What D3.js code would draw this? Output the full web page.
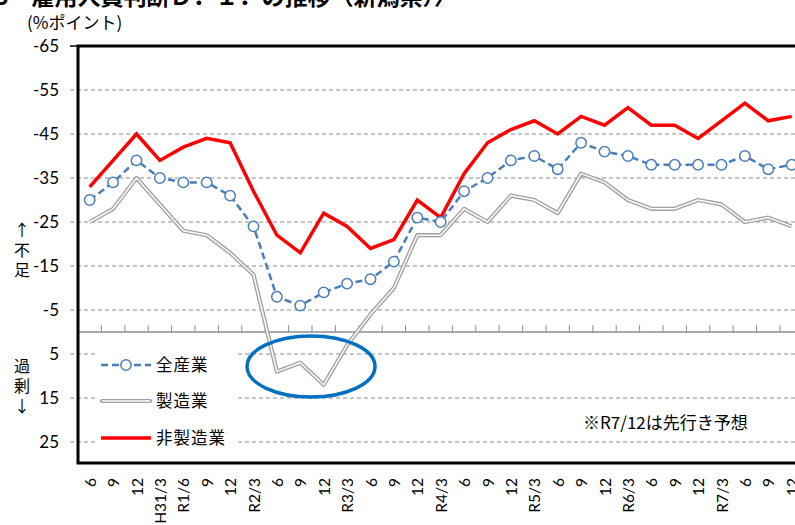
<!DOCTYPE html>
<html>
<head>
<meta charset="utf-8">
<script src="https://cdn.jsdelivr.net/npm/d3@7"></script>
<style>
  body { margin: 0; background: #fff; }
  text { font-family: "Noto Sans CJK JP", sans-serif; }
  .num { font-family: Lato, "Liberation Sans", sans-serif; }
</style>
</head>
<body>
<div id="vis"></div>
<script>
// ---------- data ----------
const categories = ["6", "9", "12", "H31/3", "R1/6", "9", "12", "R2/3", "6", "9", "12", "R3/3",
  "6", "9", "12", "R4/3", "6", "9", "12", "R5/3", "6", "9", "12", "R6/3", "6", "9", "12",
  "R7/3", "6", "9", "12"];
const allIndustry = [-30, -34, -39, -35, -34, -34, -31, -24, -8, -6, -9, -11, -12, -16, -26, -25,
  -32, -35, -39, -40, -37, -43, -41, -40, -38, -38, -38, -38, -40, -37, -38];
const manufacturing = [-25, -28, -35, -29, -23, -22, -18, -13, 9, 7, 12, 3, -4, -10, -22, -22,
  -28, -25, -31, -30, -27, -36, -34, -30, -28, -28, -30, -29, -25, -26, -24];
const nonManufacturing = [-33, -39, -45, -39, -42, -44, -43, -32, -22, -18, -27, -24, -19, -21, -30, -26,
  -36, -43, -46, -48, -45, -49, -47, -51, -47, -47, -44, -48, -52, -48, -49];
const yTicks = [-65, -55, -45, -35, -25, -15, -5, 5, 15, 25];

// ---------- frame ----------
const WIDTH = 795, HEIGHT = 525;
const PLOT = { left: 78, top: 46, bottom: 464 };
const STEP = 23.4;

const svg = d3.select("#vis").append("svg")
  .attr("width", WIDTH).attr("height", HEIGHT);

const x = d3.scaleBand()
  .domain(d3.range(categories.length))
  .range([PLOT.left, PLOT.left + STEP * categories.length]);
const y = d3.scaleLinear().domain([-65, 30]).range([PLOT.top, PLOT.bottom]);
const cx = i => x(i) + x.bandwidth() / 2;

// title (top cut off like in the source)
svg.append("text")
  .attr("x", -5).attr("y", 5)
  .attr("font-size", 23).attr("font-weight", "bold")
  .text("3　雇用人員判断Ｄ．Ｉ．の推移（新潟県）〉");

svg.append("text")
  .attr("x", 27).attr("y", 29)
  .attr("font-size", 17)
  .text("(%ポイント)");

// gridlines with outer tick stubs
svg.append("g")
  .selectAll("line")
  .data(yTicks.filter(d => d !== -65))
  .join("line")
  .attr("x1", 70).attr("x2", WIDTH)
  .attr("y1", d => y(d)).attr("y2", d => y(d))
  .attr("stroke", "#8c8c8c").attr("stroke-width", 1)
  .attr("stroke-dasharray", "4,3");

svg.append("line")
  .attr("x1", 70).attr("x2", PLOT.left)
  .attr("y1", y(-65)).attr("y2", y(-65))
  .attr("stroke", "#000").attr("stroke-width", 1.5);

// y labels
svg.append("g")
  .selectAll("text")
  .data(yTicks)
  .join("text")
  .attr("class", "num")
  .attr("x", 59).attr("y", d => y(d))
  .attr("dy", "0.36em")
  .attr("text-anchor", "end")
  .attr("font-size", 17)
  .text(d => d);

// side notes, stacked one character per row
const sideNote = (chars, y0) => {
  const t = svg.append("text")
    .attr("x", 22).attr("y", y0)
    .attr("text-anchor", "middle")
    .attr("font-size", 16);
  t.selectAll("tspan")
    .data(chars)
    .join("tspan")
    .attr("x", 22)
    .attr("dy", (d, i) => i === 0 ? 0 : 20)
    .text(d => d);
};
sideNote(["↑", "不", "足"], 236);
sideNote(["過", "剰", "↓"], 372);

// legend box (hides gridlines behind it)
svg.append("rect")
  .attr("x", 95).attr("y", 343).attr("width", 140).attr("height", 110)
  .attr("fill", "#fff");

// zero line with category ticks
svg.append("line")
  .attr("x1", PLOT.left).attr("x2", WIDTH)
  .attr("y1", y(0)).attr("y2", y(0))
  .attr("stroke", "#8c8c8c").attr("stroke-width", 1.3);
svg.append("g")
  .selectAll("line")
  .data(d3.range(1, categories.length + 1))
  .join("line")
  .attr("x1", i => PLOT.left + STEP * i).attr("x2", i => PLOT.left + STEP * i)
  .attr("y1", y(0)).attr("y2", y(0) - 7)
  .attr("stroke", "#8c8c8c").attr("stroke-width", 1);

// series
const line = d3.line().x((d, i) => cx(i)).y(d => y(d));

svg.append("path").datum(manufacturing)
  .attr("d", line).attr("fill", "none")
  .attr("stroke", "#a0a0a0").attr("stroke-width", 4.2).attr("stroke-linejoin", "round");
svg.append("path").datum(manufacturing)
  .attr("d", line).attr("fill", "none")
  .attr("stroke", "#fff").attr("stroke-width", 1.5).attr("stroke-linejoin", "round");

svg.append("path").datum(nonManufacturing)
  .attr("d", line).attr("fill", "none")
  .attr("stroke", "#ff0000").attr("stroke-width", 3.5);

svg.append("path").datum(allIndustry)
  .attr("d", line).attr("fill", "none")
  .attr("stroke", "#4a7ebb").attr("stroke-width", 2.5)
  .attr("stroke-dasharray", "7,4");
svg.append("g")
  .selectAll("circle")
  .data(allIndustry)
  .join("circle")
  .attr("cx", (d, i) => cx(i)).attr("cy", d => y(d))
  .attr("r", 5.2)
  .attr("fill", "#fff").attr("stroke", "#4a7ebb").attr("stroke-width", 1.5);

// highlight ellipse
svg.append("ellipse")
  .attr("cx", 311).attr("cy", 366.5).attr("rx", 64).attr("ry", 30.5)
  .attr("fill", "none").attr("stroke", "#0070c0").attr("stroke-width", 3.5);

// plot border
svg.append("rect")
  .attr("x", PLOT.left).attr("y", PLOT.top)
  .attr("width", STEP * categories.length).attr("height", PLOT.bottom - PLOT.top - 1)
  .attr("fill", "none").attr("stroke", "#000").attr("stroke-width", 3);

// x labels
svg.append("g")
  .selectAll("text")
  .data(categories)
  .join("text")
  .attr("class", "num")
  .attr("transform", (d, i) => `translate(${cx(i) + 6},478) rotate(-90)`)
  .attr("text-anchor", "end")
  .attr("font-size", 15.5)
  .text(d => d);

// legend
const legendRows = [
  { name: "全産業", y: 365 },
  { name: "製造業", y: 401 },
  { name: "非製造業", y: 438 }
];
svg.append("line").attr("x1", 101).attr("x2", 151).attr("y1", 365).attr("y2", 365)
  .attr("stroke", "#4a7ebb").attr("stroke-width", 2.5).attr("stroke-dasharray", "7,4");
svg.append("circle").attr("cx", 126).attr("cy", 365).attr("r", 5.2)
  .attr("fill", "#fff").attr("stroke", "#4a7ebb").attr("stroke-width", 1.5);
svg.append("line").attr("x1", 102).attr("x2", 150).attr("y1", 401).attr("y2", 401)
  .attr("stroke", "#a0a0a0").attr("stroke-width", 4.2).attr("stroke-linecap", "round");
svg.append("line").attr("x1", 102).attr("x2", 150).attr("y1", 401).attr("y2", 401)
  .attr("stroke", "#fff").attr("stroke-width", 1.5);
svg.append("line").attr("x1", 101).attr("x2", 151).attr("y1", 438).attr("y2", 438)
  .attr("stroke", "#ff0000").attr("stroke-width", 3.5);
svg.append("g")
  .selectAll("text")
  .data(legendRows)
  .join("text")
  .attr("x", 156).attr("y", d => d.y)
  .attr("dy", "0.36em")
  .attr("font-size", 16.5)
  .attr("letter-spacing", 1)
  .text(d => d.name);

// forecast note
svg.append("text")
  .attr("x", 583).attr("y", 423)
  .attr("dy", "0.36em")
  .attr("font-size", 17)
  .text("※R7/12は先行き予想");
</script>
</body>
</html>
